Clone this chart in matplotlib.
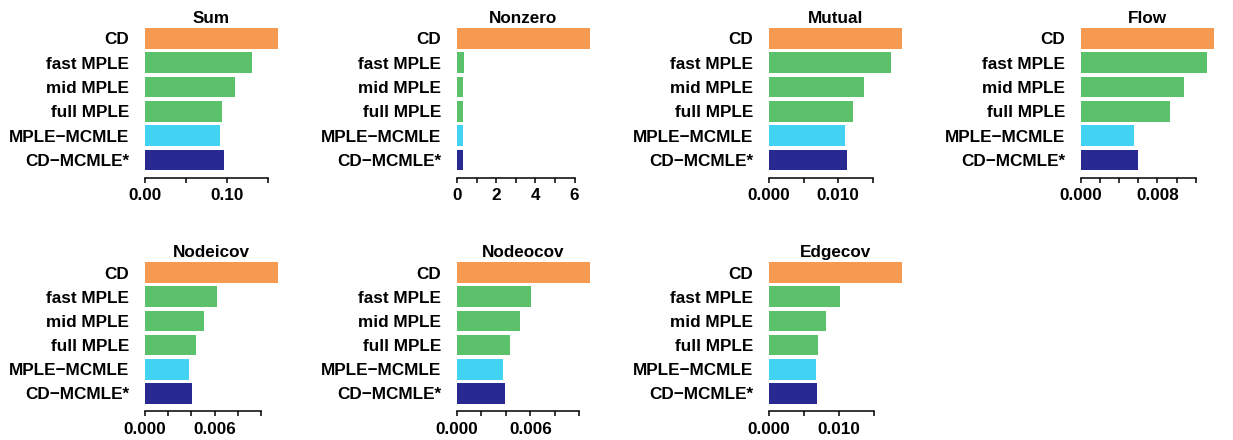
import numpy as np
import matplotlib
matplotlib.use("Agg")
import matplotlib.pyplot as plt

plt.rcParams['font.family'] = ['Liberation Sans', 'DejaVu Sans']
plt.rcParams['font.weight'] = 'bold'

methods = ["CD", "fast MPLE", "mid MPLE", "full MPLE", "MPLE\u2212MCMLE", "CD\u2212MCMLE*"]
colors = ["#F69A52", "#5CC16B", "#5CC16B", "#5CC16B", "#42D3F2", "#282A91"]

panel_titles = ["Sum", "Nonzero", "Mutual", "Flow", "Nodeicov", "Nodeocov", "Edgecov"]

sum_vals = [0.1618, 0.1300, 0.1098, 0.0939, 0.0915, 0.0963]
nonzero_vals = [6.79, 0.36, 0.31, 0.30, 0.31, 0.30]
mutual_vals = [0.01924, 0.01760, 0.01374, 0.01210, 0.01100, 0.01128]
flow_vals = [0.01392, 0.01318, 0.01080, 0.00934, 0.00556, 0.00598]
nodeicov_vals = [0.01147, 0.00622, 0.00507, 0.00441, 0.00380, 0.00406]
nodeocov_vals = [0.01087, 0.00605, 0.00512, 0.00433, 0.00376, 0.00392]
edgecov_vals = [0.01895, 0.01010, 0.00812, 0.00698, 0.00670, 0.00684]

sum_ticks = [0.0, 0.05, 0.10, 0.15]
sum_labels = ["0.00", "", "0.10", ""]
nonzero_ticks = [0, 1, 2, 3, 4, 5, 6]
nonzero_labels = ["0", "", "2", "", "4", "", "6"]
mutual_ticks = [0.0, 0.005, 0.010, 0.015]
mutual_labels = ["0.000", "", "0.010", ""]
flow_ticks = [0.0, 0.002, 0.004, 0.006, 0.008, 0.010, 0.012]
flow_labels = ["0.000", "", "", "", "0.008", "", ""]
nodeicov_ticks = [0.0, 0.002, 0.004, 0.006, 0.008, 0.010]
nodeicov_labels = ["0.000", "", "", "0.006", "", ""]
nodeocov_ticks = [0.0, 0.002, 0.004, 0.006, 0.008, 0.010]
nodeocov_labels = ["0.000", "", "", "0.006", "", ""]
edgecov_ticks = [0.0, 0.005, 0.010, 0.015]
edgecov_labels = ["0.000", "", "0.010", ""]

panels = [
    (sum_vals, sum_ticks, sum_labels),
    (nonzero_vals, nonzero_ticks, nonzero_labels),
    (mutual_vals, mutual_ticks, mutual_labels),
    (flow_vals, flow_ticks, flow_labels),
    (nodeicov_vals, nodeicov_ticks, nodeicov_labels),
    (nodeocov_vals, nodeocov_ticks, nodeocov_labels),
    (edgecov_vals, edgecov_ticks, edgecov_labels),
]

W, H = 1233, 440
fig = plt.figure(figsize=(W / 100, H / 100), dpi=100)

col_left = [145, 457, 769, 1081]
ax_w = 133
rows = [(26.3, 172.1, 5.6), (260.5, 405.5, 5.5)]

px2pt = 72 / 100
FS = 12.3
for i, (title, (vals, ticks, labels)) in enumerate(zip(panel_titles, panels)):
    r, c = divmod(i, 4)
    top, bot, off = rows[r]
    ax = fig.add_axes([col_left[c] / W, 1 - bot / H, ax_w / W, (bot - top) / H])
    y = np.arange(len(methods))
    ax.barh(y, vals, height=0.85, color=colors)
    for s in ['top', 'right', 'left']:
        ax.spines[s].set_visible(False)
    ax.spines['bottom'].set_position(('outward', off * px2pt))
    ax.spines['bottom'].set_linewidth(1.1)
    ax.set_ylim(len(methods) - 0.5, -0.5)
    ax.set_xlim(0, max(vals))
    ax.set_yticks(y)
    ax.set_yticklabels(methods)
    ax.tick_params(axis='y', length=0, pad=15.7 * px2pt, labelsize=FS)
    ax.set_xticks(ticks)
    ax.set_xticklabels(labels)
    ax.tick_params(axis='x', length=5 * px2pt, width=1.1, pad=5.5 * px2pt,
                   direction='out', labelsize=FS)
    ax.spines['bottom'].set_bounds(ticks[0], ticks[-1])
    ax.set_title(title, fontsize=FS, fontweight='bold', pad=3.6 * px2pt)

fig.savefig("out.png", dpi=100)
